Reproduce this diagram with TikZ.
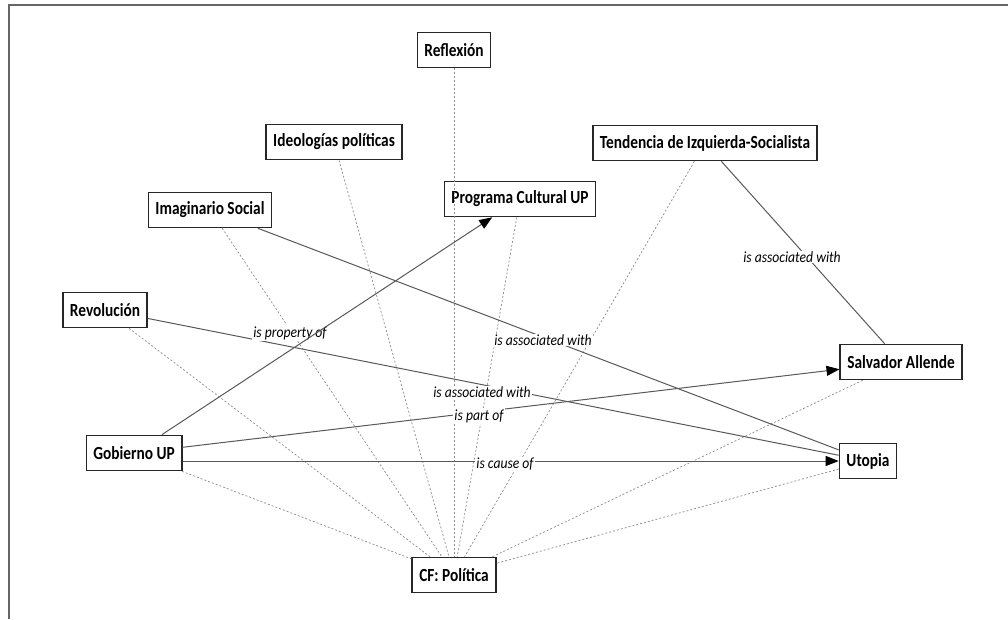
\documentclass[tikz,border=0pt]{standalone}
\usepackage{fontspec}
\setmainfont{Carlito}
\newfontfamily\nodefont{Carlito}[FakeStretch=0.83]
\newfontfamily\lblfont{Carlito}[FakeStretch=0.88]
\usetikzlibrary{arrows.meta}
\tikzset{
  conbox/.style={draw=black!85, line width=1.6pt, fill=white, text=black,
    font=\nodefont\bfseries\fontsize{18.5}{20}\selectfont,
    inner xsep=7pt, inner ysep=0pt, minimum height=35pt},
  lbl/.style={font=\lblfont\itshape\fontsize{15.5}{16}\selectfont, fill=white,
    inner sep=1pt, text=black},
  famlink/.style={draw=black!45, line width=0.7pt, dash pattern=on 2pt off 2pt},
  rel/.style={draw=black!65, line width=1pt},
  tip/.style={-{Triangle[length=13pt,width=10pt,color=black]}}
}
\begin{document}
\begin{tikzpicture}[x=1pt,y=-1pt]
\useasboundingbox (0,0) rectangle (1008,619);
\fill[white] (0,0) rectangle (1008,619);
\draw[black!60, line width=2pt] (9,619) -- (9,5) -- (1008,5);

% nodes
\node[conbox] (refl) at (454,50) {Reflexión};
\node[conbox] (ideo) at (334,142) {Ideologías políticas};
\node[conbox] (imag) at (210,210) {Imaginario Social};
\node[conbox] (revo) at (105,310) {Revolución};
\node[conbox] (tend) at (705,143) {Tendencia de Izquierda-Socialista};
\node[conbox] (prog) at (520,199) {Programa Cultural UP};
\node[conbox] (salv) at (901,362) {Salvador Allende};
\node[conbox] (uto) at (868,461) {Utopia};
\node[conbox] (gob) at (134,453) {Gobierno UP};
\node[conbox] (cf) at (454,575) {CF: Política};

% code family links
\foreach \n in {refl,ideo,imag,revo,gob,prog,tend,salv,uto}
  \draw[famlink] (\n) -- (cf);

% relations
\draw[rel] (revo) -- (uto);
\draw[rel] (imag) -- (uto);
\draw[rel] (tend) -- (salv);
\draw[rel,tip] (gob) -- (salv);
\draw[rel,tip] (gob.east |- uto.west) -- (uto.west);

% labels
\node[lbl] (l1) at (290,333) {is property of};
\node[lbl] (l2) at (543,340) {is associated with};
\node[lbl] (l3) at (482,392) {is associated with};
\node[lbl] (l4) at (479,416) {is part of};
\node[lbl] (l5) at (505,464) {is cause of};
\node[lbl] (l6) at (792,257) {is associated with};

\draw[rel,tip] (gob) -- (prog);
\end{tikzpicture}
\end{document}
